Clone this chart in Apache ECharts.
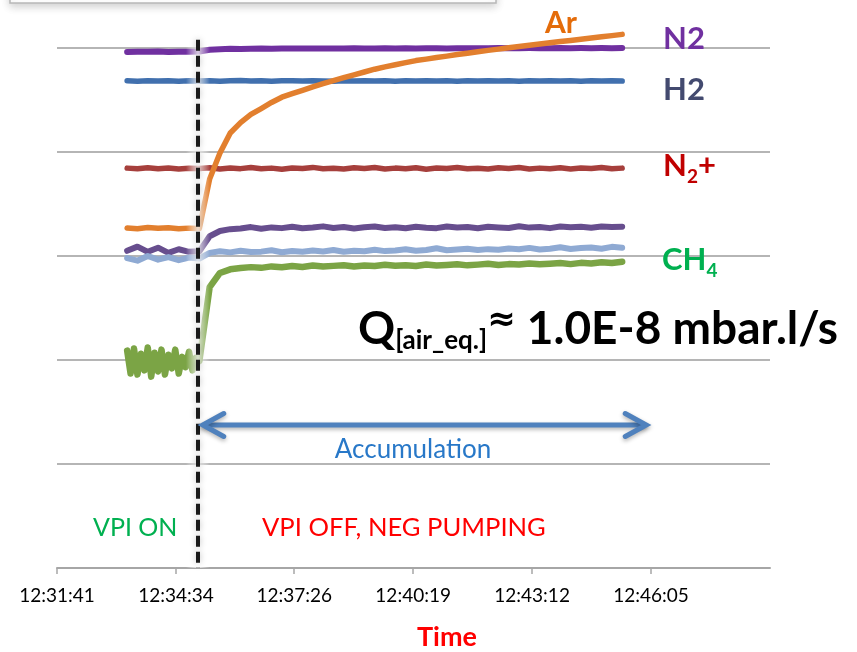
<!DOCTYPE html>
<html>
<head>
<meta charset="utf-8">
<script src="https://cdn.jsdelivr.net/npm/echarts@6/dist/echarts.min.js"></script>
<style>html,body{margin:0;padding:0;background:#fff}#c{width:857px;height:652px}</style>
</head>
<body>
<div id="c"></div>
<script>
// ---------------- data ----------------
const xTickLabels = ['12:31:41','12:34:34','12:37:26','12:40:19','12:43:12','12:46:05'];
const xAxisEnd = '12:48:58';
const yDecadeMin = 0, yDecadeMax = 5;

const times = ['12:33:23','12:33:38','12:33:53','12:34:08','12:34:23','12:34:38','12:34:53','12:35:08',
 '12:35:23','12:35:38','12:35:53','12:36:08','12:36:23','12:36:38','12:36:53','12:37:08','12:37:23','12:37:38',
 '12:37:53','12:38:08','12:38:23','12:38:38','12:38:53','12:39:08','12:39:23','12:39:38','12:39:53','12:40:08',
 '12:40:23','12:40:38','12:40:53','12:41:08','12:41:23','12:41:38','12:41:53','12:42:08','12:42:23','12:42:38',
 '12:42:53','12:43:08','12:43:23','12:43:38','12:43:53','12:44:08','12:44:23','12:44:38','12:44:53','12:45:08','12:45:23'];

const n2Values = [4.962,4.965,4.963,4.966,4.962,4.964,4.963,4.966,4.983,4.989,
 4.992,4.991,4.993,4.994,4.992,4.995,4.994,4.996,4.995,4.994,
 4.996,4.995,4.997,4.996,4.995,4.997,4.996,4.998,4.996,4.997,
 4.998,4.996,4.998,4.997,4.998,4.997,4.999,4.997,4.998,4.999,
 4.998,4.997,4.999,4.998,4.999,4.998,4.999,4.998,4.999];

const h2Values = [4.684,4.681,4.686,4.682,4.685,4.680,4.684,4.683,4.686,4.681,
 4.684,4.687,4.682,4.685,4.681,4.684,4.686,4.682,4.685,4.683,
 4.680,4.685,4.683,4.686,4.682,4.684,4.681,4.685,4.683,4.686,
 4.682,4.684,4.681,4.685,4.683,4.686,4.682,4.684,4.680,4.685,
 4.683,4.686,4.682,4.684,4.681,4.685,4.683,4.684,4.682];

const n2PlusValues = [3.845,3.838,3.848,3.840,3.846,3.837,3.844,3.841,3.849,3.836,
 3.846,3.840,3.851,3.838,3.845,3.834,3.847,3.841,3.852,3.839,
 3.844,3.836,3.848,3.842,3.850,3.837,3.845,3.840,3.849,3.835,
 3.846,3.841,3.851,3.838,3.844,3.836,3.848,3.842,3.850,3.837,
 3.845,3.839,3.849,3.836,3.847,3.841,3.850,3.838,3.845];

const violetValues = [3.05,3.09,3.04,3.08,3.03,3.065,3.04,3.045,3.19,3.24,3.258,
 3.265,3.278,3.262,3.275,3.268,3.282,3.266,3.274,3.285,3.27,
 3.279,3.264,3.276,3.283,3.269,3.277,3.266,3.281,3.272,3.268,
 3.284,3.274,3.279,3.266,3.282,3.275,3.27,3.286,3.273,3.279,
 3.268,3.283,3.276,3.281,3.271,3.284,3.278,3.282];

const lightBlueValues = [2.98,2.955,3.0,2.965,2.99,2.96,2.985,2.975,
 3.03,3.045,3.035,3.05,3.038,3.042,3.055,3.036,3.048,3.04,
 3.052,3.044,3.058,3.041,3.05,3.046,3.06,3.047,3.053,3.064,
 3.05,3.058,3.075,3.055,3.062,3.07,3.057,3.066,3.06,3.072,
 3.065,3.078,3.062,3.07,3.084,3.068,3.076,3.082,3.07,3.088,3.08];

const arValues = [3.27,3.262,3.274,3.266,3.271,3.262,3.268,3.265,
 3.74,3.99,4.183,4.283,4.362,4.418,4.476,4.527,4.561,4.593,4.627,4.657,
 4.686,4.715,4.742,4.769,4.796,4.819,4.839,4.859,4.879,4.893,
 4.908,4.922,4.937,4.95,4.963,4.977,4.989,5.002,5.014,5.026,
 5.038,5.05,5.062,5.073,5.085,5.096,5.108,5.119,5.131];

// CH4 while the VPI is on (denser sampling of the noisy part)
const ch4OnTimes = ['12:33:23','12:33:28','12:33:33','12:33:38','12:33:43','12:33:48','12:33:53','12:33:58',
 '12:34:03','12:34:08','12:34:13','12:34:18','12:34:23','12:34:28','12:34:33','12:34:38','12:34:43','12:34:48',
 '12:34:53','12:34:58','12:35:03','12:35:08'];
const ch4OnValues = [2.09,1.87,2.11,1.86,2.06,1.9,2.12,1.84,2.07,1.89,2.1,1.86,2.05,1.92,2.1,1.87,2.03,1.93,2.08,1.9,2.02,1.99];
// CH4 during accumulation (times[8] onward)
const ch4Values = [2.70,2.837,2.872,2.885,2.893,2.886,2.9,2.892,2.904,2.895,
 2.908,2.898,2.905,2.912,2.9,2.909,2.903,2.915,2.906,2.912,
 2.904,2.918,2.909,2.914,2.921,2.91,2.917,2.925,2.913,2.922,
 2.918,2.928,2.92,2.926,2.932,2.922,2.934,2.928,2.94,2.932,2.945];

const vpiOffTime = '12:35:06';
const accumulationStart = '12:35:13';
const accumulationEnd = '12:45:58';
const arrowLevel = 1.375;
const dashTopLevel = 5.08;

// ---------------- helpers ----------------
function sec(t){const p=t.split(':').map(Number);return p[0]*3600+p[1]*60+p[2];}
function fmt(v){v=Math.round(v);const h=Math.floor(v/3600),m=Math.floor(v%3600/60),s=v%60;
  return h+':'+String(m).padStart(2,'0')+':'+String(s).padStart(2,'0');}
function pairs(ts, vs){return vs.map((v,i)=>[sec(ts[i]), v]);}

const tickValues = xTickLabels.map(sec);
const FONT = 'Lato';

function lineSeries(name, data, color, width, z){
  return {name, type:'line', data, showSymbol:false, symbol:'none', clip:false, z,
    lineStyle:{color, width, cap:'round', join:'round'}, emphasis:{disabled:true}};
}

const chart = echarts.init(document.getElementById('c'), null, {renderer:'canvas'});
chart.setOption({
  animation:false,
  backgroundColor:'#fff',
  grid:{left:57, right:87, top:48, bottom:84, containLabel:false},
  xAxis:{type:'value', min:tickValues[0], max:sec(xAxisEnd),
    axisLine:{show:true, lineStyle:{color:'#A6A6A6', width:2}},
    axisTick:{show:true, length:6, customValues:tickValues, lineStyle:{color:'#A6A6A6', width:1.5}},
    axisLabel:{customValues:tickValues, formatter:v=>fmt(v), fontFamily:FONT, fontSize:19, color:'#000', margin:18},
    splitLine:{show:false}},
  yAxis:{type:'value', min:yDecadeMin, max:yDecadeMax, interval:1,
    axisLine:{show:false}, axisTick:{show:false}, axisLabel:{show:false},
    splitLine:{show:true, lineStyle:{color:'#9C9C9C', width:1.5}}},
  series:[
    lineSeries('N2', pairs(times, n2Values), '#7030A0', 6, 2),
    lineSeries('H2', pairs(times, h2Values), '#4170AE', 5.5, 2),
    lineSeries('N2+', pairs(times, n2PlusValues), '#A63F3C', 5.5, 2),
    lineSeries('violet', pairs(times, violetValues), '#674E8E', 6, 2),
    lineSeries('lightblue', pairs(times, lightBlueValues), '#8FAAD3', 6, 2),
    lineSeries('CH4', pairs(ch4OnTimes, ch4OnValues).concat(pairs(times.slice(8), ch4Values)), '#7BA445', 6.5, 2),
    lineSeries('Ar', pairs(times, arValues), '#E27F2E', 5.5, 3)
  ]
});

// ---------------- annotations ----------------
const px = v => chart.convertToPixel({xAxisIndex:0}, v);
const py = v => chart.convertToPixel({yAxisIndex:0}, v);
const dashX = px(sec(vpiOffTime));
const dashTop = py(dashTopLevel), dashBottom = py(0);
const aY = py(arrowLevel), aX0 = px(sec(accumulationStart)), aX1 = px(sec(accumulationEnd));
const arrowColor = '#4F81BD';
const arrowShadow = {shadowBlur:4, shadowColor:'rgba(0,0,0,0.3)', shadowOffsetY:2};

function txt(x, y, text, size, color, bold, align){
  return {type:'text', x, y, z:110, style:{text, fontFamily:FONT, fontSize:size, fontWeight:bold?'bold':'normal',
    fill:color, align:align||'left', verticalAlign:'middle'}};
}
function richTxt(x, y, text, rich){
  return {type:'text', x, y, z:110, style:{text, rich, align:'left', verticalAlign:'middle'}};
}

chart.setOption({graphic:[
  // cropped legend frame at the top
  {type:'rect', z:1, shape:{x:10, y:-20, width:486, height:23},
    style:{fill:'#fff', stroke:'#B8B8B8', lineWidth:1.5, shadowBlur:8, shadowColor:'rgba(0,0,0,0.18)', shadowOffsetY:3}},
  // glow around the VPI-off marker
  {type:'rect', z:100, shape:{x:dashX-12, y:dashTop, width:24, height:dashBottom-dashTop},
    style:{fill:new echarts.graphic.LinearGradient(0,0,1,0,[
      {offset:0, color:'rgba(255,255,255,0)'},{offset:0.5, color:'rgba(255,255,255,0.8)'},{offset:1, color:'rgba(255,255,255,0)'}])}},
  {type:'line', z:101, shape:{x1:Math.round(dashX), y1:dashTop, x2:Math.round(dashX), y2:dashBottom},
    style:{stroke:'#1A1A1A', lineWidth:4, lineDash:[11,5], shadowBlur:6, shadowColor:'rgba(0,0,0,0.25)'}},
  // accumulation arrow
  {type:'line', z:102, shape:{x1:aX0+2, y1:aY, x2:aX1-2, y2:aY},
    style:Object.assign({stroke:arrowColor, lineWidth:5, lineCap:'round'}, arrowShadow)},
  {type:'polyline', z:102, shape:{points:[[aX0+21,aY-11.5],[aX0,aY],[aX0+21,aY+11.5]]},
    style:Object.assign({stroke:arrowColor, lineWidth:5, lineCap:'round', lineJoin:'miter', fill:null}, arrowShadow)},
  {type:'polyline', z:102, shape:{points:[[aX1-21,aY-11.5],[aX1,aY],[aX1-21,aY+11.5]]},
    style:Object.assign({stroke:arrowColor, lineWidth:5, lineCap:'round', lineJoin:'miter', fill:null}, arrowShadow)},
  txt(413, 450, 'Accumulation', 26, '#2878C8', false, 'center'),
  // series labels
  txt(545, 23, 'Ar', 30, '#E46C0A', true),
  txt(663, 39, 'N2', 31, '#7030A0', true),
  txt(663, 90, 'H2', 31, '#434A6F', true),
  richTxt(663, 166, '{a|N}{s|2}{a|+}', {
    a:{fontFamily:FONT, fontSize:31, fontWeight:'bold', fill:'#C00000', lineHeight:40},
    s:{fontFamily:FONT, fontSize:19, fontWeight:'bold', fill:'#C00000', lineHeight:14, verticalAlign:'bottom'}}),
  richTxt(662, 260, '{a|CH}{s|4}', {
    a:{fontFamily:FONT, fontSize:31, fontWeight:'bold', fill:'#00B050', lineHeight:40},
    s:{fontFamily:FONT, fontSize:19, fontWeight:'bold', fill:'#00B050', lineHeight:18, verticalAlign:'bottom'}}),
  richTxt(358, 329, '{a|Q}{s|[air_eq.]}{u|≈}{a| 1.0E-8 mbar.l/s}', {
    a:{fontFamily:FONT, fontSize:46, fontWeight:'bold', fill:'#000', lineHeight:50},
    s:{fontFamily:FONT, fontSize:26, fontWeight:'bold', fill:'#000', lineHeight:14, verticalAlign:'bottom'},
    u:{fontFamily:'DejaVu Sans', fontSize:34, fontWeight:'bold', fill:'#000', lineHeight:36, verticalAlign:'top'}}),
  // phase labels
  txt(93, 528, 'VPI ON', 25, '#00B050', false),
  txt(262, 528, 'VPI OFF, NEG PUMPING', 25.6, '#FF0000', false),
  // axis title
  txt(447, 637, 'Time', 27, '#FF0000', true, 'center')
]});
</script>
</body>
</html>
